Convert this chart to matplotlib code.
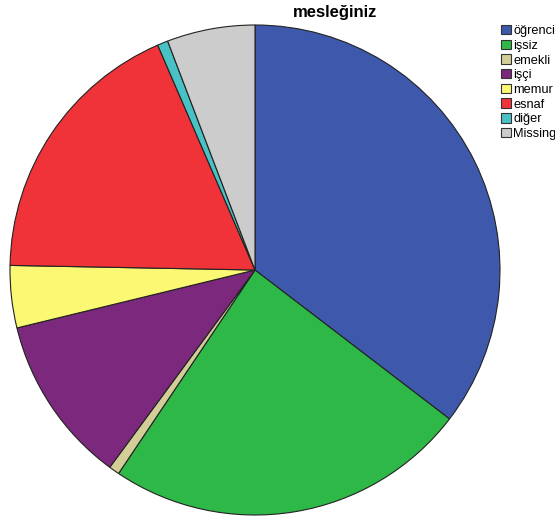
import matplotlib
matplotlib.use("Agg")
import matplotlib.pyplot as plt
from matplotlib.patches import Patch

labels = ["öğrenci", "işsiz", "emekli", "işçi", "memur", "esnaf", "diğer", "Missing"]
percents = [35.4, 24.0, 0.7, 11.1, 4.1, 18.2, 0.7, 5.8]
colors = ["#3E58AC", "#2EB848", "#D3CE97", "#7B287D", "#FBF873", "#EF3338", "#48C2C5", "#CCCCCC"]

W, H = 555, 520
fig = plt.figure(figsize=(W / 100, H / 100), dpi=100)

cx, cy, r = 255, 270, 245
ax = fig.add_axes([(cx - r) / W, (H - cy - r) / H, 2 * r / W, 2 * r / H])
ax.pie(percents, colors=colors, startangle=90, counterclock=False,
       wedgeprops={"edgecolor": "#222222", "linewidth": 0.8})
ax.set_xlim(-1, 1)
ax.set_ylim(-1, 1)
ax.set_aspect("equal")
ax.axis("off")

fig.text(335 / W, 1 - 12 / H, "mesleğiniz", ha="center", va="center",
         fontsize=12, fontweight="bold", family="Liberation Sans")

handles = [Patch(facecolor=c, edgecolor="#333333", linewidth=0.8) for c in colors]
fig.legend(handles, labels, loc="upper left", bbox_to_anchor=(501 / W, 1 - 25 / H),
           frameon=False, handlelength=0.8, handleheight=0.75,
           handletextpad=0.15, labelspacing=0.2, borderpad=0, borderaxespad=0,
           prop={"family": "Liberation Sans", "size": 9.2})

fig.savefig("out.png", dpi=100)
